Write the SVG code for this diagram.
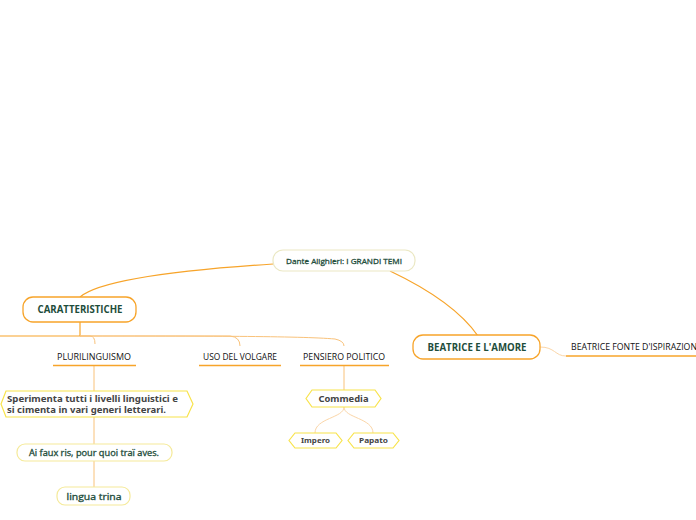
<svg xmlns="http://www.w3.org/2000/svg" width="696" height="520" viewBox="0 0 696 520">
<style>
.t{font-family:"Open Sans","Noto Sans","Liberation Sans",sans-serif;fill:#1e4d3b;}
.s{stroke:#1e4d3b;stroke-width:0.3;}
.g{font-family:"Noto Sans","Liberation Sans",sans-serif;fill:#444;font-weight:bold;}
.main{fill:none;stroke:#f7a42a;stroke-width:1.2;}
.thin{fill:none;stroke:#f9c27a;stroke-width:1;}
.pale{fill:none;stroke:#fbd6a8;stroke-width:1;}
.ul{stroke:#f7a42a;stroke-width:1.5;}
.box{fill:#fff;stroke:#f7a42a;stroke-width:1.3;}
.rbox{fill:#fff;stroke:#ebe8c4;stroke-width:1.2;}
.ybox{fill:#fff;stroke:#f5ea9a;stroke-width:1.2;}
.hex{fill:#fff;stroke:#f8e34a;stroke-width:1.2;}
</style>
<rect width="696" height="520" fill="#fff"/>
<g id="connectors">
<path class="main" d="M273,264 C180,270 100,280 80,297"/>
<path class="main" d="M390,271 C430,290 460,310 478,336"/>
<path class="pale" d="M540,347 C555,347 555,356 566,356"/>
<path class="main" d="M80,322 L80,336 L0,336"/>
<path class="thin" d="M80,336 L90,336 Q95,336 95,344"/>
<path class="thin" d="M80,336 L230,336 Q240,337 240,346"/>
<path class="thin" d="M80,336 C200,336 300,336 335,339 Q344,341 344,346"/>
<path class="thin" d="M94,366 L94,391"/>
<path class="thin" d="M94,417 L94,444"/>
<path class="thin" d="M94,461 L94,487"/>
<path class="thin" d="M344,366 L344,390"/>
<path class="pale" d="M344,407 C344,418 315,418 315,433"/>
<path class="pale" d="M344,407 C344,418 373,418 373,433"/>
</g>
<g id="root">
<rect class="rbox" x="273" y="250" width="142" height="21" rx="10"/>
<text class="t s" x="344" y="264" font-size="8" text-anchor="middle" textLength="116" lengthAdjust="spacingAndGlyphs">Dante Alighieri: I GRANDI TEMI</text>
</g>
<g id="caratteristiche">
<rect class="box" x="23" y="297" width="113" height="25" rx="10"/>
<text class="t" x="80" y="313" font-size="10" font-weight="bold" text-anchor="middle" textLength="85" lengthAdjust="spacingAndGlyphs">CARATTERISTICHE</text>
</g>
<g id="beatrice">
<rect class="box" x="413" y="335" width="127" height="24" rx="10"/>
<text class="t" x="477" y="351" font-size="10" font-weight="bold" text-anchor="middle" textLength="99" lengthAdjust="spacingAndGlyphs">BEATRICE E L'AMORE</text>
</g>
<g id="beatrice-fonte">
<line class="ul" x1="566" y1="356" x2="696" y2="356"/>
<text class="t" x="571" y="350" font-size="8.5" style="fill:#111" textLength="126" lengthAdjust="spacingAndGlyphs">BEATRICE FONTE D'ISPIRAZION</text>
</g>
<g id="plurilinguismo">
<line class="ul" x1="53" y1="365.5" x2="136" y2="365.5"/>
<text class="t" x="94" y="360" font-size="8.5" text-anchor="middle" style="fill:#111" textLength="74" lengthAdjust="spacingAndGlyphs">PLURILINGUISMO</text>
</g>
<g id="uso-del-volgare">
<line class="ul" x1="199" y1="365.5" x2="281" y2="365.5"/>
<text class="t" x="240" y="360" font-size="8.5" text-anchor="middle" style="fill:#111" textLength="74" lengthAdjust="spacingAndGlyphs">USO DEL VOLGARE</text>
</g>
<g id="pensiero-politico">
<line class="ul" x1="300" y1="365.5" x2="389" y2="365.5"/>
<text class="t" x="344" y="360" font-size="8.5" text-anchor="middle" style="fill:#111" textLength="82" lengthAdjust="spacingAndGlyphs">PENSIERO POLITICO</text>
</g>
<g id="sperimenta">
<polygon class="hex" points="1,404 6,391 187,391 193,404 187,417 6,417"/>
<text class="g" font-size="8.5"><tspan x="7" y="402" textLength="171" lengthAdjust="spacingAndGlyphs">Sperimenta tutti i livelli linguistici e</tspan><tspan x="7" y="413" textLength="159" lengthAdjust="spacingAndGlyphs">si cimenta in vari generi letterari.</tspan></text>
</g>
<g id="ai-faux-ris">
<rect class="ybox" x="17" y="444" width="155" height="17" rx="8"/>
<text class="t s" x="94" y="456" font-size="8.5" text-anchor="middle" textLength="130" lengthAdjust="spacingAndGlyphs">Ai faux ris, pour quoi traï aves.</text>
</g>
<g id="lingua-trina">
<rect class="ybox" x="57" y="487" width="73" height="18" rx="8"/>
<text class="t s" x="94" y="499.5" font-size="8.5" text-anchor="middle" textLength="55" lengthAdjust="spacingAndGlyphs">lingua trina</text>
</g>
<g id="commedia">
<polygon class="hex" points="306,398.5 312,390 375,390 381,398.5 375,407 312,407"/>
<text class="g" x="343.5" y="402" font-size="8.5" text-anchor="middle" textLength="50" lengthAdjust="spacingAndGlyphs">Commedia</text>
</g>
<g id="impero">
<polygon class="hex" points="289,440.5 295,433 336,433 342,440.5 336,448 295,448"/>
<text class="g" x="315.5" y="443" font-size="7" text-anchor="middle" textLength="29" lengthAdjust="spacingAndGlyphs">Impero</text>
</g>
<g id="papato">
<polygon class="hex" points="348,440.5 354,433 393,433 399,440.5 393,448 354,448"/>
<text class="g" x="373.5" y="443" font-size="7" text-anchor="middle" textLength="29" lengthAdjust="spacingAndGlyphs">Papato</text>
</g>
</svg>
